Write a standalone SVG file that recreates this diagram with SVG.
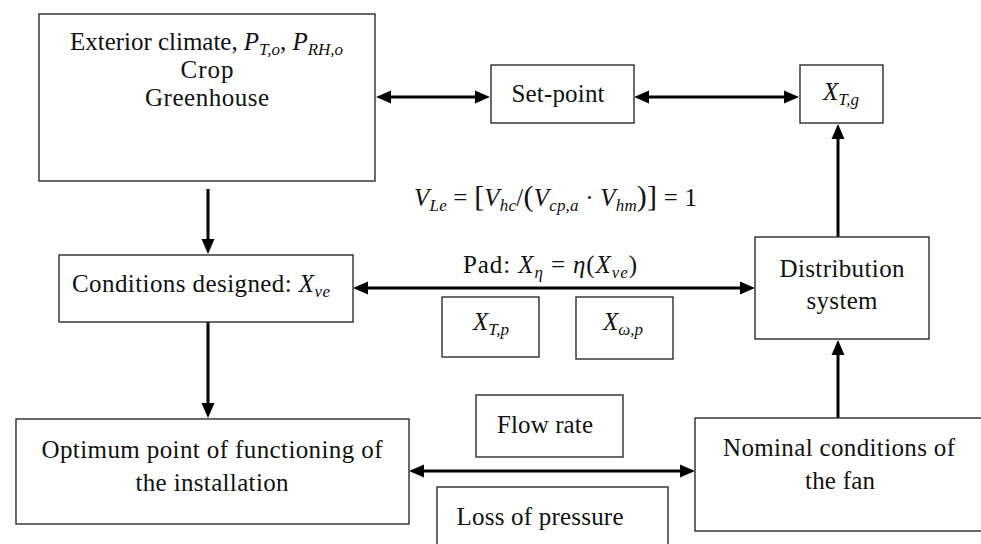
<svg xmlns="http://www.w3.org/2000/svg" width="981" height="544" viewBox="0 0 981 544">
<style>
.box{fill:#fff;stroke:#2b2b2b;stroke-width:1.4}
.t{font-family:"Liberation Serif","DejaVu Serif","Times New Roman",serif;font-size:25px;fill:#111}
.m{font-style:italic}
.s{font-size:17px;font-style:italic}
.br{font-size:30px}
.con{fill:none;stroke:#000;stroke-width:3}
</style>
<defs>
<marker id="ah" markerUnits="userSpaceOnUse" markerWidth="15" markerHeight="13" refX="0" refY="6.5" orient="auto-start-reverse" overflow="visible">
<path d="M0,0 L15,6.5 L0,13 z" fill="#000"/>
</marker>
</defs>
<rect width="981" height="544" fill="#fff"/>

<g id="connectors">
<path class="con" d="M391,97 H475" marker-start="url(#ah)" marker-end="url(#ah)"/>
<path class="con" d="M649,97 H784" marker-start="url(#ah)" marker-end="url(#ah)"/>
<path class="con" d="M838,237 V139" marker-end="url(#ah)"/>
<path class="con" d="M208,189 V239" marker-end="url(#ah)"/>
<path class="con" d="M368,288 H740" marker-start="url(#ah)" marker-end="url(#ah)"/>
<path class="con" d="M208,322 V403" marker-end="url(#ah)"/>
<path class="con" d="M424,471 H680" marker-start="url(#ah)" marker-end="url(#ah)"/>
<path class="con" d="M838,418 V355" marker-end="url(#ah)"/>
</g>

<g id="n-exterior">
<rect class="box" x="39" y="14" width="336" height="167"/>
<text class="t" x="70" y="50" textLength="273" lengthAdjust="spacing">Exterior climate, <tspan class="m">P</tspan><tspan class="s" dy="5">T,o</tspan><tspan dy="-5">, </tspan><tspan class="m">P</tspan><tspan class="s" dy="5">RH,o</tspan></text>
<text class="t" x="207" y="78" text-anchor="middle" textLength="53" lengthAdjust="spacing">Crop</text>
<text class="t" x="207" y="106" text-anchor="middle" textLength="124" lengthAdjust="spacing">Greenhouse</text>
</g>

<g id="n-setpoint">
<rect class="box" x="491" y="65" width="143" height="58"/>
<text class="t" x="558" y="102" text-anchor="middle" textLength="93" lengthAdjust="spacing">Set-point</text>
</g>

<g id="n-xtg">
<rect class="box" x="800" y="65" width="83" height="58"/>
<text class="t" x="841" y="100" text-anchor="middle"><tspan class="m">X</tspan><tspan class="s" dy="5">T,g</tspan></text>
</g>

<g id="formula">
<text class="t" x="414" y="206" textLength="283" lengthAdjust="spacing"><tspan class="m">V</tspan><tspan class="s" dy="5">Le</tspan><tspan dy="-5"> = </tspan><tspan class="br">[</tspan><tspan class="m">V</tspan><tspan class="s" dy="5">hc</tspan><tspan dy="-5">/</tspan><tspan class="br">(</tspan><tspan class="m">V</tspan><tspan class="s" dy="5">cp,a</tspan><tspan dy="-5"> · </tspan><tspan class="m">V</tspan><tspan class="s" dy="5">hm</tspan><tspan class="br" dy="-5">)]</tspan><tspan> = 1</tspan></text>
</g>

<g id="n-conditions">
<rect class="box" x="59" y="255" width="294" height="67"/>
<text class="t" x="72" y="292" textLength="258" lengthAdjust="spacing">Conditions designed: <tspan class="m">X</tspan><tspan class="s" dy="5">ve</tspan></text>
</g>

<g id="pad-label">
<text class="t" x="463" y="273" textLength="174" lengthAdjust="spacing">Pad: <tspan class="m">X</tspan><tspan class="s" dy="5">η</tspan><tspan dy="-5"> = </tspan><tspan class="m">η</tspan>(<tspan class="m">X</tspan><tspan class="s" dy="5">ve</tspan><tspan dy="-5">)</tspan></text>
</g>

<g id="n-xtp">
<rect class="box" x="442" y="297" width="97" height="60"/>
<text class="t" x="491" y="330" text-anchor="middle"><tspan class="m">X</tspan><tspan class="s" dy="5">T,p</tspan></text>
</g>

<g id="n-xwp">
<rect class="box" x="576" y="297" width="97" height="62"/>
<text class="t" x="623" y="330" text-anchor="middle"><tspan class="m">X</tspan><tspan class="s" dy="5">ω,p</tspan></text>
</g>

<g id="n-distribution">
<rect class="box" x="755" y="237" width="174" height="102"/>
<text class="t" x="842" y="277" text-anchor="middle" textLength="125" lengthAdjust="spacing">Distribution</text>
<text class="t" x="842" y="309" text-anchor="middle" textLength="71" lengthAdjust="spacing">system</text>
</g>

<g id="n-optimum">
<rect class="box" x="16" y="419" width="393" height="105"/>
<text class="t" x="212" y="458" text-anchor="middle" textLength="341" lengthAdjust="spacing">Optimum point of functioning of</text>
<text class="t" x="212" y="491" text-anchor="middle" textLength="153" lengthAdjust="spacing">the installation</text>
</g>

<g id="n-flow">
<rect class="box" x="476" y="395" width="147" height="62"/>
<text class="t" x="545" y="433" text-anchor="middle" textLength="96" lengthAdjust="spacing">Flow rate</text>
</g>

<g id="n-loss">
<rect class="box" x="437" y="487" width="231" height="70"/>
<text class="t" x="540" y="525" text-anchor="middle" textLength="167" lengthAdjust="spacing">Loss of pressure</text>
</g>

<g id="n-nominal">
<rect class="box" x="695" y="418" width="300" height="113"/>
<text class="t" x="839" y="456" text-anchor="middle" textLength="232" lengthAdjust="spacing">Nominal conditions of</text>
<text class="t" x="840" y="489" text-anchor="middle" textLength="70" lengthAdjust="spacing">the fan</text>
</g>
</svg>
